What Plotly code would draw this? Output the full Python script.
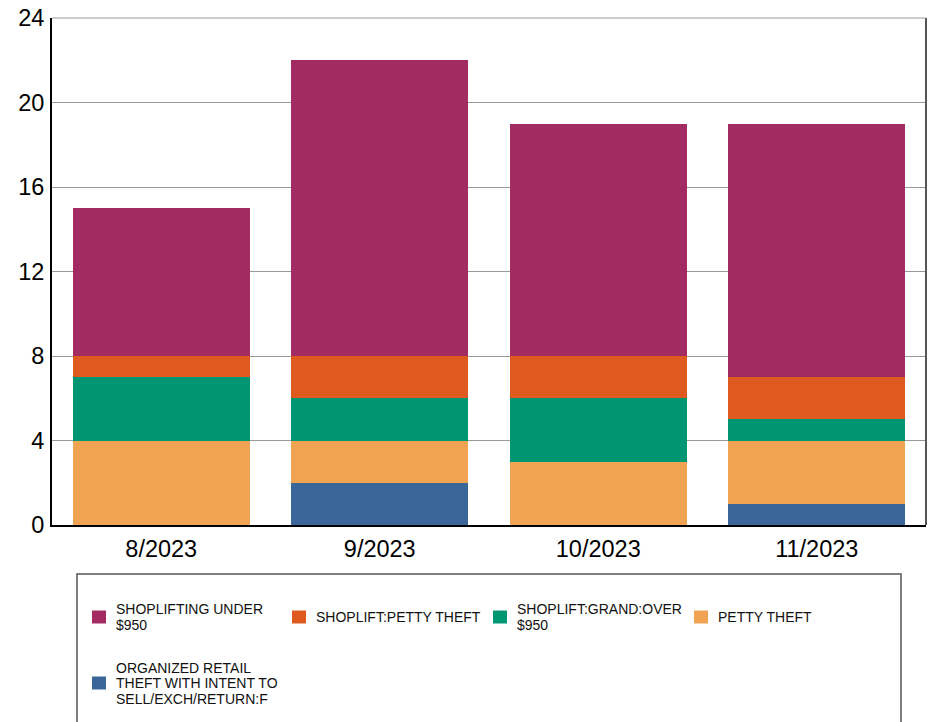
import plotly.graph_objects as go

W, H = 939, 722
M_L, M_R, M_T, M_B = 52, 13, 18, 197

months = ["8/2023", "9/2023", "10/2023", "11/2023"]

# stack order, bottom to top
organized = [0, 2, 0, 1]
petty_theft = [4, 2, 3, 3]
grand_over = [3, 2, 3, 1]
shoplift_petty = [1, 2, 2, 2]
shoplifting_under = [7, 14, 11, 12]

series = [
    (["ORGANIZED RETAIL", "THEFT WITH INTENT TO", "SELL/EXCH/RETURN:F"], organized, "#3a6699"),
    (["PETTY THEFT"], petty_theft, "#efa353"),
    (["SHOPLIFT:GRAND:OVER", "$950"], grand_over, "#009672"),
    (["SHOPLIFT:PETTY THEFT"], shoplift_petty, "#df5a1f"),
    (["SHOPLIFTING UNDER", "$950"], shoplifting_under, "#a22c61"),
]

FONT = "Liberation Sans, Arial, sans-serif"
PW = W - M_L - M_R
PH = H - M_T - M_B


def px_x(px):
    return (px - M_L) / PW


def px_y(py):
    return (H - M_B - py) / PH


fig = go.Figure()
for lines, vals, color in series:
    fig.add_trace(go.Bar(x=months, y=vals, name=" ".join(lines), marker_color=color,
                         marker_line_width=0, showlegend=False))

# legend drawn by hand: box, colour squares, labels (square x, row centre y)
legend_items = [
    (series[4], 92, 617),
    (series[3], 292, 617),
    (series[2], 493, 617),
    (series[1], 694, 617),
    (series[0], 92, 683),
]
LINE_H = 15.5

shapes = [
    dict(type="rect", xref="paper", yref="paper", x0=px_x(77), x1=px_x(901),
         y0=px_y(574), y1=px_y(770), line=dict(color="#555", width=1.5),
         fillcolor="rgba(0,0,0,0)"),
    dict(type="line", xref="paper", yref="paper", x0=1, x1=1, y0=0, y1=1,
         line=dict(color="#555", width=2)),
    dict(type="line", xref="paper", yref="paper", x0=0, x1=1, y0=1, y1=1,
         line=dict(color="#999", width=1)),
]
annotations = []
for (lines, _, color), sx, cy in legend_items:
    shapes.append(dict(type="rect", xref="paper", yref="paper",
                       x0=px_x(sx), x1=px_x(sx + 14), y0=px_y(cy + 6.5), y1=px_y(cy - 6.5),
                       line_width=0, fillcolor=color))
    top = cy - LINE_H * (len(lines) - 1) / 2
    for i, line in enumerate(lines):
        annotations.append(dict(xref="paper", yref="paper", x=px_x(sx + 22), y=px_y(top + i * LINE_H),
                                xanchor="left", yanchor="middle", align="left", showarrow=False,
                                text=line, font=dict(size=14, color="#111", family=FONT)))

fig.update_layout(
    width=W, height=H,
    margin=dict(l=M_L, r=M_R, t=M_T, b=M_B, autoexpand=False),
    barmode="stack", bargap=0.19,
    paper_bgcolor="white", plot_bgcolor="white",
    font=dict(family=FONT, color="black"),
    shapes=shapes, annotations=annotations,
    xaxis=dict(showline=True, linecolor="black", linewidth=2, showgrid=False,
               tickfont=dict(size=23.5, color="black"), ticklabelstandoff=2, automargin=False),
    yaxis=dict(range=[0, 24], tickvals=[0, 4, 8, 12, 16, 20, 24], showline=True,
               linecolor="black", linewidth=2, showgrid=True, gridcolor="#999",
               gridwidth=1, zeroline=False, tickfont=dict(size=23.5, color="black"),
               ticklabelstandoff=1, ticklabeloverflow="allow", automargin=False),
)

# drop the browser's default page margin so the figure fills the window
fig.write_html("out.html", config={"displayModeBar": False},
               post_script="document.body.style.margin = '0';")
